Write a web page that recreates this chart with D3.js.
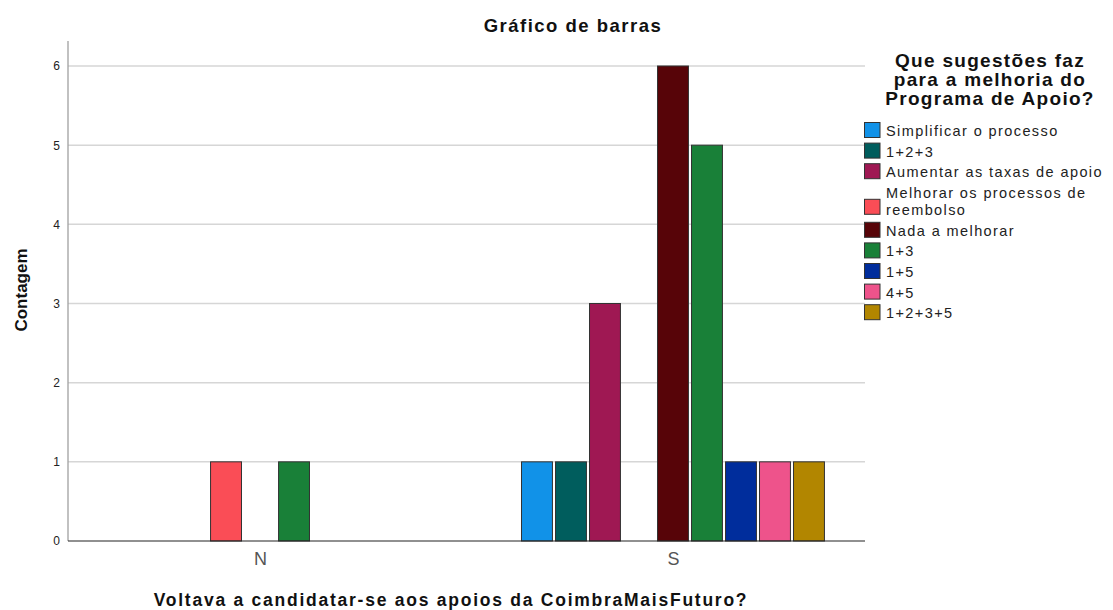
<!DOCTYPE html>
<html><head><meta charset="utf-8">
<script src="https://cdn.jsdelivr.net/npm/d3@7"></script>
<style>body{margin:0;background:#fff;} text{font-family:"Liberation Sans",Arial,sans-serif;}</style>
</head><body>
<svg id="c" width="1113" height="610"></svg>
<script>
const groups = ["N", "S"];
const categories = ["Simplificar o processo", "1+2+3", "Aumentar as taxas de apoio", "Melhorar os processos de reembolso", "Nada a melhorar", "1+3", "1+5", "4+5", "1+2+3+5"];
const legendLabels = [["Simplificar o processo"], ["1+2+3"], ["Aumentar as taxas de apoio"], ["Melhorar os processos de", "reembolso"], ["Nada a melhorar"], ["1+3"], ["1+5"], ["4+5"], ["1+2+3+5"]];
const colors = ["#1192e8", "#005d5d", "#9f1853", "#fa4d56", "#570408", "#198038", "#002d9c", "#ee538b", "#b28600"];
const valuesN = [0, 0, 0, 1, 0, 1, 0, 0, 0];
const valuesS = [1, 1, 3, 0, 6, 5, 1, 1, 1];
const yTicks = [0, 1, 2, 3, 4, 5, 6];

const svg = d3.select("#c");
const L = 68, R = 865, T = 41, B = 541;

const y = d3.scaleLinear().domain([0, 6]).range([B, 66]);
const x0 = d3.scalePoint().domain(groups).range([L, R]).padding(0.465);
const x1 = d3.scaleBand().domain(categories).range([-153, 153]).paddingInner(0.09).paddingOuter(0.045);

// gridlines
svg.append("g").selectAll("line").data(yTicks.filter(d => d > 0)).join("line")
  .attr("x1", L).attr("x2", R).attr("y1", d => y(d)).attr("y2", d => y(d))
  .attr("stroke", "#d6d6d6").attr("stroke-width", 1.5);

// y axis
const yAxis = svg.append("g").attr("transform", `translate(${L},0)`)
  .call(d3.axisLeft(y).tickValues(yTicks).tickSize(0).tickPadding(8).tickFormat(d3.format("d")));
yAxis.select(".domain").remove();
yAxis.selectAll("text").attr("font-size", 12).attr("fill", "#222");
svg.append("line").attr("x1", L).attr("x2", L).attr("y1", T).attr("y2", B).attr("stroke", "#a0a0a0").attr("stroke-width", 1.3);

// bars
const data = [];
groups.forEach((g, gi) => {
  const vals = gi === 0 ? valuesN : valuesS;
  categories.forEach((c, ci) => { if (vals[ci] > 0) data.push({g, c, ci, v: vals[ci]}); });
});
svg.append("g").selectAll("rect").data(data).join("rect")
  .attr("x", d => x0(d.g) + x1(d.c))
  .attr("width", x1.bandwidth())
  .attr("y", d => y(d.v))
  .attr("height", d => y(0) - y(d.v))
  .attr("fill", d => colors[d.ci])
  .attr("stroke", "#333").attr("stroke-width", 1);

// baseline
svg.append("line").attr("x1", L).attr("x2", R).attr("y1", B).attr("y2", B).attr("stroke", "#222").attr("stroke-width", 1.2);

// x axis labels
const xAxis = svg.append("g").attr("transform", `translate(0,${B})`)
  .call(d3.axisBottom(x0).tickSize(0).tickPadding(0));
xAxis.select(".domain").remove();
xAxis.selectAll("text").attr("dy", null).attr("y", 24).attr("font-size", 18).attr("fill", "#555")
  .attr("font-family", "'Liberation Sans',Arial,sans-serif");

// titles
svg.append("text").attr("x", 573).attr("y", 32).attr("text-anchor", "middle")
  .attr("font-size", 18.5).attr("letter-spacing", 1.5).attr("font-weight", "bold").attr("fill", "#111").text("Gráfico de barras");
svg.append("text").attr("x", 451).attr("y", 606).attr("text-anchor", "middle")
  .attr("font-size", 17.5).attr("letter-spacing", 1.75).attr("font-weight", "bold").attr("fill", "#111").text("Voltava a candidatar-se aos apoios da CoimbraMaisFuturo?");
svg.append("text").attr("transform", "translate(27,290) rotate(-90)").attr("text-anchor", "middle")
  .attr("font-size", 17).attr("font-weight", "bold").attr("fill", "#111").text("Contagem");

// legend title
const lt = ["Que sugestões faz", "para a melhoria do", "Programa de Apoio?"];
svg.append("g").selectAll("text").data(lt).join("text")
  .attr("x", 990).attr("y", (d, i) => 67 + i * 19).attr("text-anchor", "middle")
  .attr("font-size", 19).attr("letter-spacing", 1.3).attr("font-weight", "bold").attr("fill", "#111").text(d => d);

// legend items
const rowY = [];
let cy = 136;
legendLabels.forEach(l => { rowY.push(cy); cy += 20.6 + (l.length - 1) * 17.4; });
const lg = svg.append("g");
legendLabels.forEach((l, i) => {
  const yy = l.length > 1 ? rowY[i] + 1.5 : rowY[i] - 13.5;
  lg.append("rect").attr("x", 864.5).attr("y", yy).attr("width", 15.5).attr("height", 15)
    .attr("fill", colors[i]).attr("stroke", "#333").attr("stroke-width", 1);
  l.forEach((s, j) => {
    lg.append("text").attr("x", 886).attr("y", rowY[i] + j * 17.4)
      .attr("font-size", 14.5).attr("letter-spacing", 1.4).attr("fill", "#222").text(s);
  });
});
</script>
</body></html>
